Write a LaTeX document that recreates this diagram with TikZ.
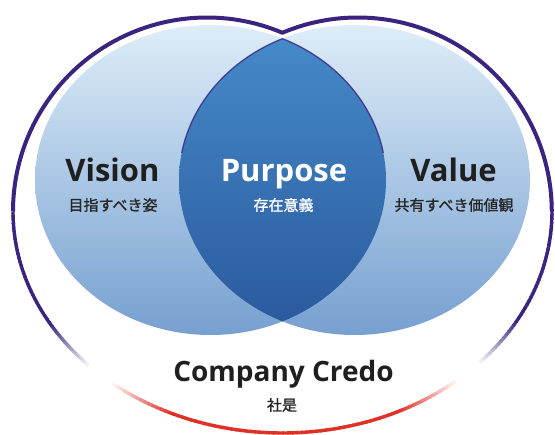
\documentclass[tikz,border=0pt]{standalone}
\usepackage{fontspec}
\setmainfont{Open Sans}
\newfontfamily\jpfont{Noto Sans CJK JP}[FakeBold=1.2]
\definecolor{credoline}{RGB}{58,36,128}
\definecolor{credored}{RGB}{222,50,38}
\definecolor{circtop}{RGB}{222,237,248}
\definecolor{circmid}{RGB}{165,198,230}
\definecolor{circbot}{RGB}{118,160,208}
\definecolor{lenstop}{RGB}{70,140,202}
\definecolor{lensbot}{RGB}{42,88,156}
\tikzset{
  circlefill/.style={top color=circtop, middle color=circmid, bottom color=circbot},
  lensfill/.style={top color=lenstop, bottom color=lensbot},
  bigword/.style={font=\bfseries\fontsize{31}{31}\selectfont, text=black!88, anchor=base},
  smallword/.style={font=\jpfont\fontsize{15}{15}\selectfont, text=black!85},
  rim/.style={line width=4pt},
}
\begin{document}
\begin{tikzpicture}[x=1pt, y=-1pt]
  \useasboundingbox (0,0) rectangle (555,435);
  % the two circles and the overlap
  \shade[circlefill] (210.5,180) ellipse [x radius=175.5, y radius=155];
  \shade[circlefill] (354.5,180) ellipse [x radius=175.5, y radius=155];
  \begin{scope}
    \clip (210.5,180) ellipse [x radius=175.5, y radius=155];
    \shade[lensfill] (354.5,180) ellipse [x radius=175.5, y radius=155];
  \end{scope}
  \draw[credoline, line width=1.3pt, opacity=0.8]
    (354.5,180) ++(-114.2:175.5 and 155) arc[start angle=-114.2, end angle=-170, x radius=175.5, y radius=155];
  \draw[credoline, line width=1.3pt, opacity=0.8]
    (210.5,180) ++(-65.8:175.5 and 155) arc[start angle=-65.8, end angle=-10, x radius=175.5, y radius=155];
  % outer rim
  \coordinate (crossing) at (282.5,32.5);
  \draw[credoline, rim, line join=round]
    (13,211.5) arc[start angle=180, end angle=292.87, radius=194]
    arc[start angle=247.13, end angle=360, radius=194];
  \foreach \a in {180,179,...,1} {
    \pgfmathsetmacro\u{min(\a,180-\a)}
    \pgfmathsetmacro\r{\u<47 ? 0 : 100}
    \pgfmathsetmacro\s{\u<30 ? 100 : (\u<44 ? (44-\u)*7.14 : (\u<50 ? 0 : (\u<65 ? (\u-50)*6.66 : 100)))}
    \draw[rim, line width=3.4pt, credored!\r!credoline!\s!white]
      (282.5,211.5) ++(\a:269.5 and 221.5) arc[start angle=\a, end angle=\a-1.3, x radius=269.5, y radius=221.5];
  }
  % labels
  \node[bigword] (vision) at (112.5,182) {Vision};
  \node[bigword, text=white] (purpose) at (284,182) {Purpose};
  \node[bigword] (value) at (453.5,182) {Value};
  \node[smallword] (visionjp) at (113,205) {目指すべき姿};
  \node[smallword, text=white] (purposejp) at (283.5,205) {存在意義};
  \node[smallword] (valuejp) at (454,205) {共有すべき価値観};
  \node[bigword, font=\bfseries\fontsize{28}{28}\selectfont] (credo) at (283.5,382) {Company Credo};
  \node[smallword] (credojp) at (282,405) {社是};
\end{tikzpicture}
\end{document}
